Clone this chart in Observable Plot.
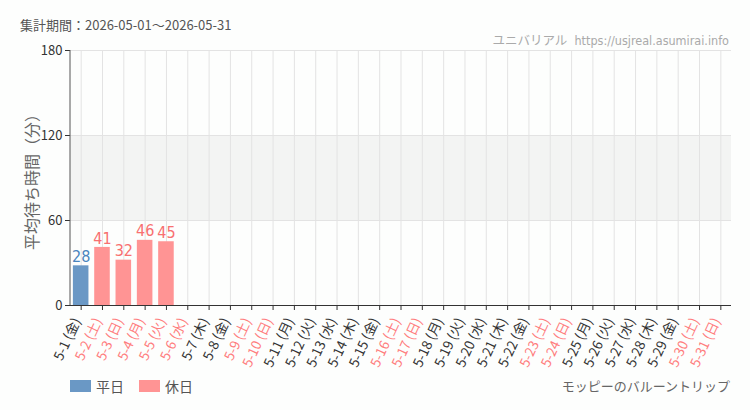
<!DOCTYPE html>
<html><head><meta charset="utf-8">
<script src="https://cdn.jsdelivr.net/npm/d3@7"></script>
<script src="https://cdn.jsdelivr.net/npm/@observablehq/plot@0.6"></script>
<style>
body{margin:0;background:#fdfefd;font-family:"Noto Sans CJK JP",sans-serif;}
#wrap{position:relative;width:750px;height:410px;overflow:hidden;}
#wrap svg{position:absolute;left:0;top:0;background:transparent;}
.t{position:absolute;white-space:nowrap;}
</style></head>
<body><div id="wrap">
<div class="t" style="left:20px;top:15px;font-size:13px;color:#555;">集計期間：2026-05-01〜2026-05-31</div>
<div class="t" style="right:21px;top:30px;font-size:12.5px;color:#aaa;font-family:'DejaVu Sans Condensed','Noto Sans CJK JP',sans-serif;">ユニバリアル&nbsp; https://usjreal.asumirai.info</div>
<div class="t" style="left:70px;top:376px;font-size:14px;color:#555;display:flex;align-items:center;">
 <span style="display:inline-block;width:21px;height:12px;background:#6a98c5;margin-right:5px;"></span>平日
 <span style="display:inline-block;width:21px;height:12px;background:#ff9494;margin:0 5px 0 15px;"></span>休日
</div>
<div class="t" style="right:20px;top:376px;font-size:13px;color:#666;">モッピーのバルーントリップ</div>
</div>
<script>
const days = ["5-1","5-2","5-3","5-4","5-5","5-6","5-7","5-8","5-9","5-10","5-11","5-12","5-13","5-14","5-15","5-16","5-17","5-18","5-19","5-20","5-21","5-22","5-23","5-24","5-25","5-26","5-27","5-28","5-29","5-30","5-31"];
const weekdays = ["金","土","日","月","火","水","木","金","土","日","月","火","水","木","金","土","日","月","火","水","木","金","土","日","月","火","水","木","金","土","日"];
const holiday = [0,1,1,1,1,1,0,0,1,1,0,0,0,0,0,1,1,0,0,0,0,0,1,1,0,0,0,0,0,1,1];
const waits = [28,41,32,46,45,null,null,null,null,null,null,null,null,null,null,null,null,null,null,null,null,null,null,null,null,null,null,null,null,null,null];
const yTicks = [0,60,120,180];

const data = days.map((d,i)=>({day:d, label:`${d} (${weekdays[i]})`, hol:holiday[i], v:waits[i]}));
const bars = data.filter(d=>d.v!=null);

const chart = Plot.plot({
  width:750, height:410,
  marginTop:50, marginLeft:70, marginRight:19, marginBottom:105,
  style:{background:"transparent", fontFamily:"'Noto Sans CJK JP',sans-serif"},
  x:{domain:days, paddingInner:0.27, paddingOuter:0.135, round:false, axis:null},
  y:{domain:[0,180], axis:null},
  marks:[
    Plot.rect([{a:60,b:120}],{y1:"a",y2:"b",fill:"#f3f4f3"}),
    Plot.ruleY([60,120,180],{stroke:"#e3e3e3"}),
    Plot.ruleX(days,{x:d=>d, stroke:"#e3e3e3"}),
    Plot.barY(bars,{x:"day", y:"v", fill:d=>d.hol?"#ff9494":"#6a98c5"}),
    Plot.text(bars,{x:"day", y:"v", text:d=>String(d.v), dy:-9, fill:d=>d.hol?"#f87070":"#4a85bd", fontSize:16, fontFamily:"'DejaVu Sans Condensed','Roboto',sans-serif", fontWeight:500, ariaLabel:"values"}),
    Plot.axisY({ticks:yTicks, tickSize:5, fontSize:13, tickPadding:3, label:"平均待ち時間（分）", labelAnchor:"center", labelArrow:"none", labelOffset:44, color:"#333"}),
    Plot.axisX({ticks:days, tickSize:5, tickFormat:()=>"", label:null, color:"#333"}),
    Plot.ruleY([0],{stroke:"#333"}),
    Plot.text(data,{x:"day", text:"label", frameAnchor:"bottom", dy:15, rotate:-65, textAnchor:"end", fontSize:13.5, fill:d=>d.hol?"#ff7d7d":"#333"})
  ]
});
document.getElementById("wrap").prepend(chart);
const svg = d3.select(chart);
svg.append("line").attr("x1",70).attr("x2",70).attr("y1",50).attr("y2",305).attr("stroke","#555");
svg.selectAll("[aria-label='y-axis label'] text, [aria-label='y-axis label']").attr("fill","#666").style("font-size","16px");
svg.selectAll("[aria-label='values'] text").style("letter-spacing","-1.5px");
</script>
</body></html>
